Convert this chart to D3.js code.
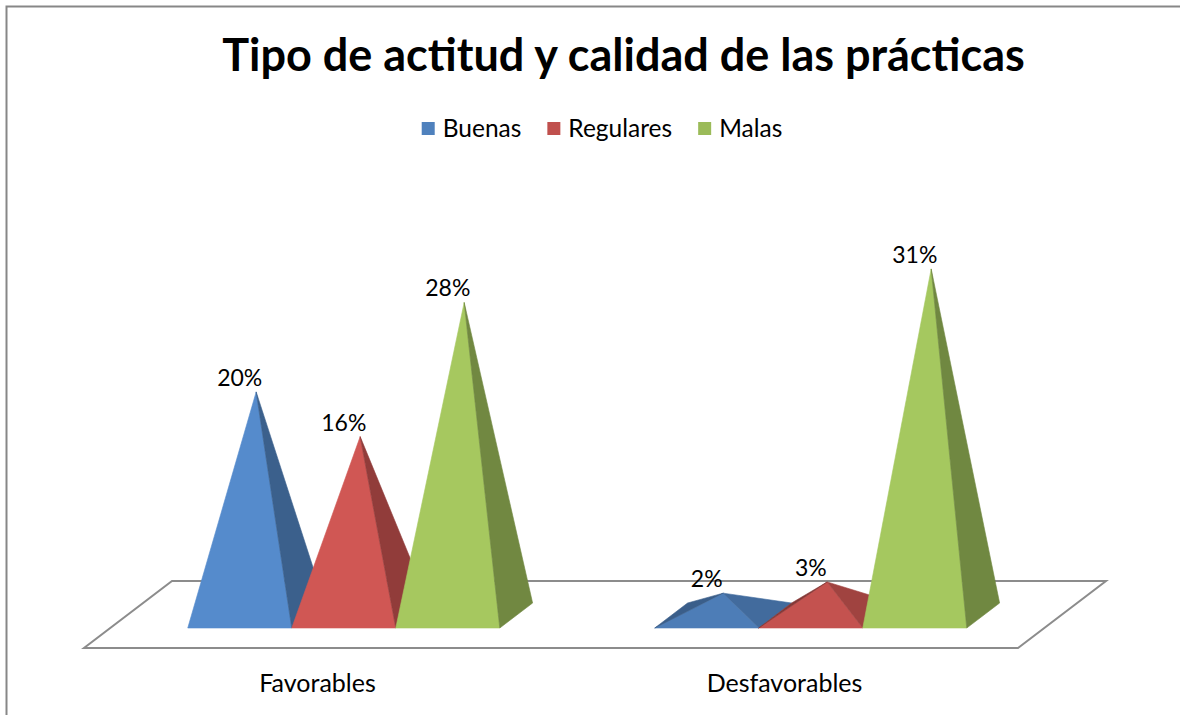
<!DOCTYPE html>
<html>
<head>
<meta charset="utf-8">
<script src="https://cdn.jsdelivr.net/npm/d3@7"></script>
<style>
  html, body { margin: 0; padding: 0; background: #ffffff; }
  svg { display: block; }
  text { font-family: Lato, "Open Sans", sans-serif; fill: #000; }
</style>
</head>
<body>
<svg id="chart" width="1180" height="715"></svg>
<script>
// ---- data ----
const categories = ["Favorables", "Desfavorables"];
const seriesNames = ["Buenas", "Regulares", "Malas"];
const buenas = [20, 2];
const regulares = [16, 3];
const malas = [28, 31];
const seriesColors = ["#4F81BD", "#C0504D", "#9BBB59"];
const valueMax = 35;
const titleText = "Tipo de actitud y calidad de las prácticas";

const seriesValues = [buenas, regulares, malas];

// ---- layout ----
const W = 1180, H = 715;
const floor = { left: 84, right: 1018, frontY: 648, dx: 88, dy: 67 }; // floor plane: front edge + depth vector
const baseFront = 0.2985, baseBack = 0.6716;  // pyramid base depth (fraction of floor depth)

const svg = d3.select("#chart");

// chart frame
svg.append("path")
  .attr("d", `M6.5,${H} L6.5,6.5 L${W},6.5`)
  .attr("fill", "none")
  .attr("stroke", "#878787")
  .attr("stroke-width", 2);

// scales
const x0 = d3.scaleBand().domain(categories).range([floor.left, floor.right]);
const x1 = d3.scaleBand().domain(seriesNames).range([0, x0.bandwidth()])
  .paddingInner(0).paddingOuter(0.745);
const hScale = d3.scaleLinear().domain([0, valueMax]).range([0, 391.3]);

// oblique projection: x along front edge, z = depth fraction, h = height in px
function project(x, z, h) {
  return [x + z * floor.dx, floor.frontY - z * floor.dy - h];
}

// floor plane
const floorPts = [
  project(floor.left, 0, 0), project(floor.right, 0, 0),
  project(floor.right, 1, 0), project(floor.left, 1, 0)
];
svg.append("path")
  .attr("d", "M" + floorPts.map(p => p.join(",")).join("L") + "Z")
  .attr("fill", "#ffffff")
  .attr("stroke", "#8C8C8C")
  .attr("stroke-width", 2)
  .attr("stroke-linejoin", "miter");

// shading: brightness from face normal
const depthUnit = x1.bandwidth() / (baseBack - baseFront); // real length of one z unit
const light = [0.131, 0.241, -0.477];
const ambient = 0.56;
function shade(color, n) {
  const len = Math.hypot(n[0], n[1], n[2]);
  const k = ambient + (n[0] * light[0] + n[1] * light[1] + n[2] * light[2]) / len;
  const c = d3.rgb(color);
  return d3.rgb(Math.min(255, c.r * k), Math.min(255, c.g * k), Math.min(255, c.b * k)).formatHex();
}

const gBars = svg.append("g");
const gLabels = svg.append("g");

categories.forEach((cat, ci) => {
  seriesNames.forEach((s, si) => {
    const v = seriesValues[si][ci];
    const xl = x0(cat) + x1(s), xr = xl + x1.bandwidth();
    const xc = (xl + xr) / 2, zc = (baseFront + baseBack) / 2;
    const h = hScale(v);
    // 3D corners (x, z, h)
    const FL = [xl, baseFront, 0], FR = [xr, baseFront, 0],
          BR = [xr, baseBack, 0], BL = [xl, baseBack, 0], A = [xc, zc, h];
    const faces = [[FL, FR], [FR, BR], [BR, BL], [BL, FL]];
    const P = q => project(q[0], q[1], q[2]);
    const area2 = (a, b, c) => (b[0] - a[0]) * (c[1] - a[1]) - (b[1] - a[1]) * (c[0] - a[0]);
    const refSign = Math.sign(area2(P(FL), P(FR), P(A)));
    faces.forEach(([p, q]) => {
      const pa = P(p), pb = P(q), pc = P(A);
      if (Math.sign(area2(pa, pb, pc)) !== refSign) return;
      // normal in real space (x, up, depth)
      const r = t => [t[0], t[2], t[1] * depthUnit];
      const u = r(q).map((d, i) => d - r(p)[i]);
      const w = r(A).map((d, i) => d - r(p)[i]);
      let n = [u[1] * w[2] - u[2] * w[1], u[2] * w[0] - u[0] * w[2], u[0] * w[1] - u[1] * w[0]];
      if (n[1] < 0) n = n.map(d => -d); // outward normals of side faces point upward
      const fill = shade(seriesColors[si], n);
      gBars.append("path")
        .attr("d", `M${pa.join(",")}L${pb.join(",")}L${pc.join(",")}Z`)
        .attr("fill", fill)
        .attr("stroke", fill)
        .attr("stroke-width", 0.6)
        .attr("stroke-linejoin", "round");
    });
    // value label above the apex, centred on the front of the base
    const apex = P(A);
    const frontMid = P([xc, baseFront, 0]);
    gLabels.append("text")
      .attr("x", frontMid[0])
      .attr("y", apex[1] - 6)
      .attr("text-anchor", "middle")
      .attr("font-size", 23)
      .text(v + "%");
  });
});

// category labels along the front edge of the floor
svg.append("g").selectAll("text")
  .data(categories)
  .join("text")
  .attr("x", d => x0(d) + x0.bandwidth() / 2)
  .attr("y", 692)
  .attr("text-anchor", "middle")
  .attr("font-size", 25)
  .text(d => d);

// title
svg.append("text")
  .attr("x", 623.5)
  .attr("y", 71)
  .attr("text-anchor", "middle")
  .attr("font-size", 45)
  .attr("font-weight", "bold")
  .text(titleText);

// legend
const legend = svg.append("g");
const items = seriesNames.map((name, i) => {
  const g = legend.append("g");
  g.append("rect").attr("width", 13).attr("height", 13).attr("y", -15).attr("fill", seriesColors[i]);
  const t = g.append("text").attr("x", 21).attr("font-size", 24.5).text(name);
  return { g, w: 21 + t.node().getComputedTextLength() };
});
const gap = 26;
const total = d3.sum(items, d => d.w) + gap * (items.length - 1);
let lx = 602 - total / 2;
items.forEach(it => {
  it.g.attr("transform", `translate(${lx},137)`);
  lx += it.w + gap;
});
</script>
</body>
</html>
